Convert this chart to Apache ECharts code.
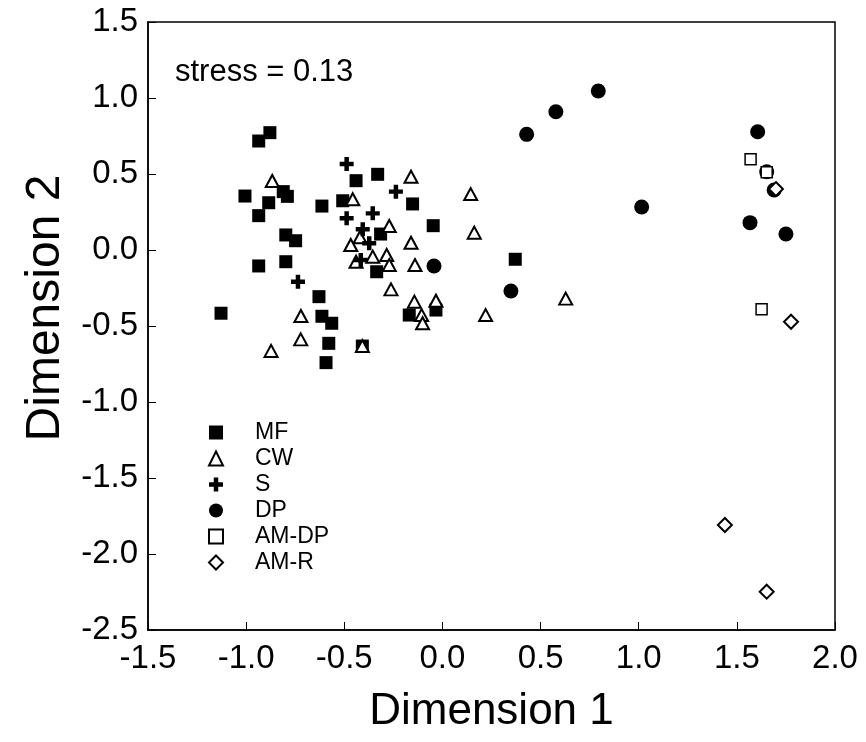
<!DOCTYPE html>
<html>
<head>
<meta charset="utf-8">
<script src="https://cdn.jsdelivr.net/npm/echarts@6/dist/echarts.min.js"></script>
<style>
  html, body { margin: 0; padding: 0; background: #fff; }
  #main { width: 866px; height: 742px; }
</style>
</head>
<body>
<div id="main"></div>
<script>
// NMDS ordination: Dimension 1 vs Dimension 2
const xTicks = [-1.5, 2.0]
const yTicks = [-2.5, 1.5]

const mfPoints = [
  [-0.936, 0.717], [-0.879, 0.772], [-1.006, 0.355], [-0.885, 0.311], [-0.936, 0.226],
  [-0.811, 0.384], [-0.790, 0.353], [-0.614, 0.289], [-0.798, 0.099], [-0.748, 0.061],
  [-0.798, -0.077], [-0.936, -0.105], [-0.629, -0.307], [-1.128, -0.416], [-0.614, -0.436],
  [-0.564, -0.482], [-0.579, -0.614], [-0.593, -0.741], [-0.440, 0.456], [-0.330, 0.498],
  [-0.508, 0.324], [-0.152, 0.303], [-0.047, 0.160], [-0.315, 0.105], [-0.335, -0.143],
  [-0.169, -0.428], [-0.033, -0.395], [-0.408, -0.632], [0.371, -0.061]
]
const cwPoints = [
  [-0.867, 0.454], [-0.721, -0.434], [-0.722, -0.588], [-0.873, -0.664],
  [-0.160, 0.482], [-0.457, 0.334], [-0.271, 0.158], [-0.420, 0.084], [-0.160, 0.048],
  [-0.467, 0.033], [-0.440, -0.077], [-0.355, -0.044], [-0.284, -0.033], [-0.271, -0.099],
  [-0.140, -0.099], [-0.262, -0.259], [-0.143, -0.340], [-0.033, -0.334], [-0.106, -0.428],
  [-0.101, -0.482], [-0.408, -0.632],
  [0.144, 0.368], [0.162, 0.114], [0.628, -0.320], [0.220, -0.428]
]
const sPoints = [
  [-0.488, 0.566], [-0.237, 0.384], [-0.488, 0.209], [-0.355, 0.241],
  [-0.406, 0.136], [-0.373, 0.044], [-0.416, -0.066], [-0.736, -0.209]
]
const dpPoints = [
  [0.794, 1.046], [0.578, 0.910], [0.429, 0.761], [1.015, 0.283], [0.349, -0.270],
  [-0.043, -0.105], [1.606, 0.778], [1.652, 0.515], [1.690, 0.395], [1.567, 0.180], [1.750, 0.105]
]
const amdpPoints = [[1.570, 0.597], [1.652, 0.512], [1.626, -0.390]]
const amrPoints = [[1.699, 0.401], [1.776, -0.472], [1.439, -1.809], [1.652, -2.248]]

const seriesNames = ['MF', 'CW', 'S', 'DP', 'AM-DP', 'AM-R']

const FONT = 'Liberation Sans, Arial, sans-serif'
const crossPath = 'path://M3.4,0H6.6V3.4H10V6.6H6.6V10H3.4V6.6H0V3.4H3.4Z'

var chart = echarts.init(document.getElementById('main'))

const option = {
  backgroundColor: '#fff',
  animation: false,
  title: {
    text: 'stress = 0.13',
    left: 170,
    top: 52,
    textStyle: { fontFamily: FONT, fontSize: 31, fontWeight: 'normal', color: '#000' }
  },
  legend: {
    orient: 'vertical',
    left: 203,
    top: 416,
    itemWidth: 14,
    itemHeight: 14,
    itemGap: 3,
    data: seriesNames,
    textStyle: { fontFamily: FONT, fontSize: 23, lineHeight: 20, color: '#000', padding: [0, 0, 0, 27] }
  },
  grid: {
    left: 148, right: 31, top: 22, bottom: 112,
    show: true, borderColor: '#000', borderWidth: 1.5
  },
  xAxis: {
    type: 'value',
    min: xTicks[0], max: xTicks[1], interval: 0.5,
    name: 'Dimension 1',
    nameLocation: 'middle',
    nameGap: 60,
    nameTextStyle: { fontFamily: FONT, fontSize: 44, color: '#000' },
    axisLine: { onZero: false, lineStyle: { color: '#000', width: 1.5 } },
    axisTick: { inside: true, length: 8, lineStyle: { color: '#000' } },
    axisLabel: {
      margin: 12, fontFamily: FONT, fontSize: 33, color: '#000',
      formatter: v => v.toFixed(1)
    },
    splitLine: { show: false }
  },
  yAxis: {
    type: 'value',
    min: yTicks[0], max: yTicks[1], interval: 0.5,
    name: 'Dimension 2',
    nameLocation: 'middle',
    nameGap: 74,
    nameTextStyle: { fontFamily: FONT, fontSize: 48, color: '#000', padding: [0, 0, 0, 36] },
    axisLine: { onZero: false, lineStyle: { color: '#000', width: 1.5 } },
    axisTick: { inside: true, length: 8, lineStyle: { color: '#000' } },
    axisLabel: {
      margin: 10, fontFamily: FONT, fontSize: 33, color: '#000',
      formatter: v => v.toFixed(1)
    },
    splitLine: { show: false }
  },
  series: [
    {
      name: 'MF', type: 'scatter', data: mfPoints,
      symbol: 'rect', symbolSize: 13,
      itemStyle: { color: '#000', opacity: 1 }
    },
    {
      name: 'CW', type: 'scatter', data: cwPoints,
      symbol: 'triangle', symbolSize: [13, 12],
      itemStyle: { color: '#fff', borderColor: '#000', borderWidth: 2, opacity: 1 }
    },
    {
      name: 'S', type: 'scatter', data: sPoints,
      symbol: crossPath, symbolSize: 14,
      itemStyle: { color: '#000', opacity: 1 }
    },
    {
      name: 'DP', type: 'scatter', data: dpPoints,
      symbol: 'circle', symbolSize: 15,
      itemStyle: { color: '#000', opacity: 1 }
    },
    {
      name: 'AM-DP', type: 'scatter', data: amdpPoints,
      symbol: 'rect', symbolSize: 11,
      itemStyle: { color: '#fff', borderColor: '#000', borderWidth: 1.5, opacity: 1 }
    },
    {
      name: 'AM-R', type: 'scatter', data: amrPoints,
      symbol: 'diamond', symbolSize: 14,
      itemStyle: { color: '#fff', borderColor: '#000', borderWidth: 2, opacity: 1 }
    }
  ]
}

chart.setOption(option)
</script>
</body>
</html>
